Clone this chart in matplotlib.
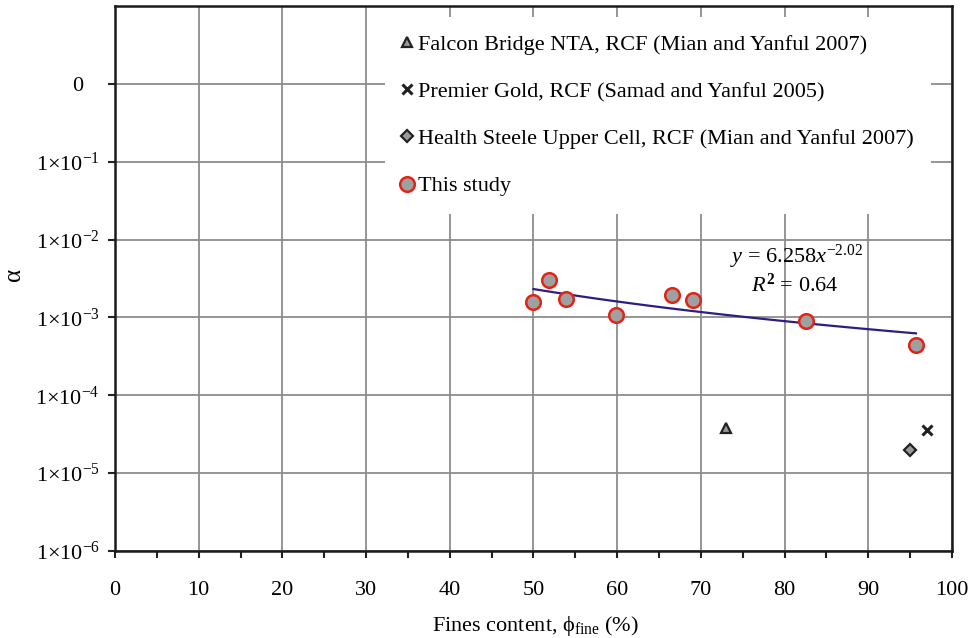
import matplotlib as mpl
mpl.use('Agg')
import matplotlib.pyplot as plt
import numpy as np

plt.rcParams['font.family'] = ['Liberation Serif', 'DejaVu Serif']
plt.rcParams['mathtext.fontset'] = 'custom'
plt.rcParams['mathtext.rm'] = 'Liberation Serif'
plt.rcParams['mathtext.it'] = 'Liberation Serif:italic'
plt.rcParams['mathtext.bf'] = 'Liberation Serif:bold'

# measured alpha vs fines content
study_fines = [50.0, 51.8, 53.9, 59.8, 66.5, 69.1, 82.6, 95.7]
study_alpha = [1.57e-3, 3.04e-3, 1.70e-3, 1.09e-3, 1.95e-3, 1.69e-3, 8.97e-4, 4.37e-4]

# literature values
falcon_fines = [73.0]
falcon_alpha = [3.8e-5]
premier_fines = [97.0]
premier_alpha = [3.55e-5]
steele_fines = [95.0]
steele_alpha = [2.0e-5]

# power fit y = a * x^b
fit_a = 6.258
fit_b = -2.02
fit_r2 = 0.64

xticks = [0, 10, 20, 30, 40, 50, 60, 70, 80, 90, 100]
yticks = [1e-6, 1e-5, 1e-4, 1e-3, 1e-2, 1e-1, 1e0]
ytick_labels = [r'1$\times$10$^{-6}$', r'1$\times$10$^{-5}$', r'1$\times$10$^{-4}$',
                r'1$\times$10$^{-3}$', r'1$\times$10$^{-2}$', r'1$\times$10$^{-1}$',
                '0\u2002\u2009']

FS = 16

fig = plt.figure(figsize=(9.72, 6.38), dpi=100)
ax = fig.add_axes([0.1183, 0.1364, 0.8611, 0.8542])

ax.set_yscale('log')
ax.set_xlim(0, 100)
ax.set_ylim(1e-6, 1e1)

ax.grid(True, which='major', color='#8c8c8c', linewidth=1.3)
ax.set_axisbelow(True)

fit_x = np.linspace(min(study_fines), max(study_fines), 100)
ax.plot(fit_x, fit_a * fit_x ** fit_b, color='#2e1e82', linewidth=1.6, zorder=3)

ax.plot(falcon_fines, falcon_alpha, linestyle='none', marker='^', markersize=7,
        markerfacecolor='#9a9a9a', markeredgecolor='#222222', markeredgewidth=1.6,
        label='Falcon Bridge NTA, RCF (Mian and Yanful 2007)', zorder=4)
ax.plot(premier_fines, premier_alpha, linestyle='none', marker='x', markersize=7,
        markeredgecolor='#222222', markeredgewidth=2.2,
        label='Premier Gold, RCF (Samad and Yanful 2005)', zorder=4)
ax.plot(steele_fines, steele_alpha, linestyle='none', marker='D', markersize=6,
        markerfacecolor='#9a9a9a', markeredgecolor='#222222', markeredgewidth=1.6,
        label='Health Steele Upper Cell, RCF (Mian and Yanful 2007)', zorder=4)
ax.plot(study_fines, study_alpha, linestyle='none', marker='o', markersize=10.5,
        markerfacecolor='#a0a0a0', markeredgecolor='#e02418', markeredgewidth=1.8,
        label='This study', zorder=5)

ax.text(81.4, 10 ** -2.22, r'$y$ = 6.258$x^{-2.02}$', ha='center', va='center', fontsize=FS)
ax.text(81.2, 10 ** -2.59, r'$R^{\mathbf{2}}$ = %.2f' % fit_r2, ha='center', va='center', fontsize=FS)

ax.set_xticks(xticks)
ax.set_xticks(np.arange(5, 100, 10), minor=True)
ax.set_yticks(yticks)
ax.set_yticklabels(ytick_labels)
ax.yaxis.set_minor_locator(mpl.ticker.NullLocator())
ax.tick_params(axis='both', which='major', direction='out', length=5, width=1.5,
               labelsize=FS, color='#222222')
ax.tick_params(axis='x', which='minor', direction='out', length=5, width=1.5, color='#222222')
ax.tick_params(axis='x', pad=16.5)
ax.tick_params(axis='y', pad=6)

for sp in ax.spines.values():
    sp.set_linewidth(1.8)
    sp.set_color('#1a1a1a')

ax.set_xlabel(r'Fines content, $\mathrm{\phi}_{\mathrm{fine}}$ (%)', fontsize=FS)
ax.xaxis.set_label_coords(0.502, -0.1157)
ax.set_ylabel(r'$\mathrm{\alpha}$', fontsize=18)
ax.yaxis.set_label_coords(-0.106, 0.506)

leg = ax.legend(loc='upper left', bbox_to_anchor=(0.3226, 0.98), fontsize=FS,
                frameon=True, fancybox=False, framealpha=1.0, edgecolor='none',
                facecolor='white', handlelength=0.42, handletextpad=0.3,
                labelspacing=1.2, borderpad=0.78, borderaxespad=0.0, numpoints=1)
leg.set_zorder(6)

fig.savefig('out.png', dpi=100)
